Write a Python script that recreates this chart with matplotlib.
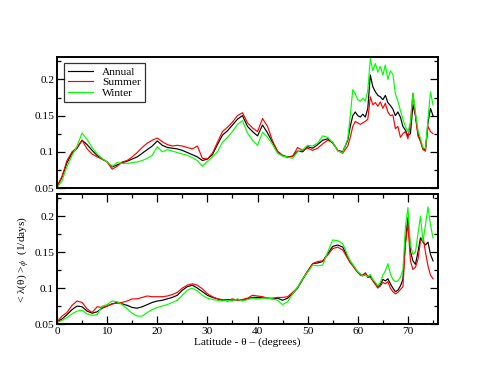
import numpy as np
import matplotlib
matplotlib.use("Agg")
import matplotlib.pyplot as plt
from matplotlib.ticker import MultipleLocator, FixedLocator

plt.rcParams['font.family'] = ['Liberation Serif', 'DejaVu Serif']
plt.rcParams['mathtext.fontset'] = 'stix'

lat = list(range(0, 58)) + [58 + 0.5 * i for i in range(35)]

top_annual = [0.052, 0.065, 0.085, 0.098, 0.105, 0.116, 0.110, 0.102, 0.095, 0.090,
              0.086, 0.079, 0.082, 0.085, 0.087, 0.090, 0.093, 0.098, 0.103, 0.108,
              0.115, 0.109, 0.106, 0.105, 0.104, 0.102, 0.099, 0.096, 0.093, 0.088,
              0.090, 0.096, 0.110, 0.123, 0.129, 0.137, 0.145, 0.150, 0.135, 0.128,
              0.122, 0.137, 0.126, 0.113, 0.100, 0.095, 0.093, 0.094, 0.101, 0.100,
              0.107, 0.105, 0.110, 0.116, 0.118, 0.112, 0.102, 0.100,
              0.116, 0.135, 0.150, 0.155, 0.150, 0.148, 0.152, 0.148, 0.160, 0.206,
              0.190, 0.183, 0.178, 0.176, 0.172, 0.178, 0.168, 0.164, 0.159, 0.150,
              0.155, 0.148, 0.135, 0.130, 0.122, 0.125, 0.165, 0.150, 0.125, 0.116,
              0.104, 0.103, 0.140, 0.160, 0.150]
top_summer = [0.052, 0.066, 0.088, 0.100, 0.106, 0.116, 0.104, 0.097, 0.093, 0.090,
              0.086, 0.076, 0.080, 0.086, 0.088, 0.093, 0.099, 0.106, 0.112, 0.116,
              0.119, 0.114, 0.110, 0.108, 0.109, 0.108, 0.106, 0.104, 0.108, 0.091,
              0.090, 0.098, 0.113, 0.128, 0.134, 0.141, 0.150, 0.154, 0.140, 0.133,
              0.128, 0.146, 0.135, 0.115, 0.101, 0.095, 0.092, 0.094, 0.106, 0.102,
              0.105, 0.102, 0.105, 0.111, 0.116, 0.113, 0.102, 0.098,
              0.108, 0.120, 0.135, 0.142, 0.140, 0.138, 0.140, 0.142, 0.145, 0.176,
              0.165, 0.168, 0.163, 0.169, 0.160, 0.167, 0.155, 0.150, 0.151, 0.132,
              0.135, 0.120, 0.125, 0.128, 0.118, 0.140, 0.181, 0.150, 0.122, 0.114,
              0.103, 0.101, 0.135, 0.128, 0.125]
top_winter = [0.050, 0.060, 0.080, 0.095, 0.108, 0.126, 0.117, 0.106, 0.097, 0.091,
              0.086, 0.080, 0.085, 0.084, 0.084, 0.085, 0.086, 0.088, 0.091, 0.095,
              0.107, 0.100, 0.103, 0.101, 0.099, 0.097, 0.095, 0.092, 0.088, 0.080,
              0.087, 0.093, 0.100, 0.113, 0.120, 0.128, 0.138, 0.143, 0.126, 0.116,
              0.109, 0.127, 0.120, 0.110, 0.098, 0.094, 0.093, 0.091, 0.100, 0.103,
              0.109, 0.108, 0.112, 0.122, 0.120, 0.113, 0.101, 0.099,
              0.118, 0.150, 0.186, 0.180, 0.172, 0.170, 0.174, 0.170, 0.185, 0.229,
              0.212, 0.222, 0.210, 0.218, 0.206, 0.220, 0.200, 0.212, 0.207, 0.180,
              0.170, 0.157, 0.145, 0.135, 0.128, 0.140, 0.181, 0.155, 0.130, 0.118,
              0.106, 0.104, 0.145, 0.183, 0.165]

bot_annual = [0.053, 0.057, 0.063, 0.070, 0.075, 0.074, 0.068, 0.065, 0.067, 0.072,
              0.075, 0.078, 0.080, 0.078, 0.076, 0.073, 0.072, 0.074, 0.077, 0.080,
              0.082, 0.083, 0.085, 0.087, 0.090, 0.097, 0.102, 0.104, 0.100, 0.095,
              0.090, 0.087, 0.085, 0.083, 0.084, 0.083, 0.084, 0.083, 0.085, 0.087,
              0.087, 0.087, 0.086, 0.085, 0.086, 0.083, 0.086, 0.092, 0.100, 0.112,
              0.123, 0.134, 0.135, 0.137, 0.148, 0.158, 0.160, 0.157,
              0.143, 0.137, 0.132, 0.127, 0.122, 0.119, 0.118, 0.121, 0.115, 0.117,
              0.111, 0.106, 0.102, 0.105, 0.112, 0.110, 0.113, 0.106, 0.100, 0.095,
              0.097, 0.103, 0.112, 0.165, 0.198, 0.151, 0.138, 0.133, 0.150, 0.170,
              0.164, 0.160, 0.164, 0.147, 0.138]
bot_summer = [0.053, 0.061, 0.066, 0.076, 0.082, 0.080, 0.071, 0.066, 0.074, 0.073,
              0.075, 0.078, 0.079, 0.080, 0.082, 0.085, 0.085, 0.087, 0.089, 0.088,
              0.088, 0.088, 0.089, 0.091, 0.094, 0.100, 0.104, 0.106, 0.104, 0.099,
              0.092, 0.088, 0.085, 0.084, 0.082, 0.085, 0.083, 0.084, 0.086, 0.090,
              0.089, 0.088, 0.086, 0.086, 0.087, 0.087, 0.088, 0.094, 0.101, 0.113,
              0.124, 0.134, 0.137, 0.138, 0.146, 0.155, 0.157, 0.153,
              0.141, 0.135, 0.131, 0.126, 0.122, 0.118, 0.117, 0.121, 0.116, 0.115,
              0.110, 0.105, 0.100, 0.103, 0.108, 0.106, 0.109, 0.100, 0.095, 0.092,
              0.094, 0.098, 0.102, 0.160, 0.190, 0.138, 0.126, 0.129, 0.140, 0.165,
              0.172, 0.150, 0.131, 0.118, 0.113]
bot_winter = [0.052, 0.055, 0.059, 0.064, 0.068, 0.069, 0.064, 0.062, 0.063, 0.075,
              0.077, 0.082, 0.081, 0.077, 0.071, 0.065, 0.061, 0.061, 0.066, 0.070,
              0.073, 0.075, 0.077, 0.080, 0.083, 0.090, 0.097, 0.100, 0.096, 0.090,
              0.086, 0.084, 0.083, 0.082, 0.083, 0.082, 0.085, 0.082, 0.084, 0.086,
              0.085, 0.086, 0.086, 0.085, 0.083, 0.077, 0.081, 0.092, 0.101, 0.113,
              0.122, 0.132, 0.131, 0.132, 0.150, 0.167, 0.166, 0.162,
              0.145, 0.138, 0.133, 0.128, 0.123, 0.120, 0.117, 0.118, 0.116, 0.119,
              0.112, 0.108, 0.103, 0.108, 0.118, 0.124, 0.134, 0.120, 0.112, 0.109,
              0.110, 0.115, 0.125, 0.185, 0.212, 0.160, 0.147, 0.150, 0.175, 0.200,
              0.165, 0.188, 0.213, 0.188, 0.170]

series_names = ["Annual", "Summer", "Winter"]
series_colors = ["#000000", "#ff0000", "#00ff00"]
xticks_major = [0, 10, 20, 30, 40, 50, 60, 70]
yticks_major = [0.05, 0.1, 0.15, 0.2]
ytick_labels = ["0.05", "0.1", "0.15", "0.2"]

fig = plt.figure(figsize=(4.95, 3.83), dpi=100)
W, H = 495.0, 383.0
ax1 = fig.add_axes([57 / W, 1 - 188 / H, 381 / W, 131 / H])
ax2 = fig.add_axes([57 / W, 1 - 324 / H, 381 / W, 130 / H])

fs = 8.2
for ax, data in ((ax1, (top_annual, top_summer, top_winter)),
                 (ax2, (bot_annual, bot_summer, bot_winter))):
    for name, col, ys in zip(series_names, series_colors, data):
        ax.plot(lat, ys, color=col, lw=0.85, label=name)
    ax.set_xlim(0, 76)
    ax.set_ylim(0.05, 0.231)
    ax.yaxis.set_major_locator(FixedLocator(yticks_major))
    ax.set_yticklabels(ytick_labels, fontsize=fs)
    ax.yaxis.set_minor_locator(MultipleLocator(0.025))
    ax.xaxis.set_major_locator(FixedLocator(xticks_major))
    ax.xaxis.set_minor_locator(MultipleLocator(5))
    for s in ax.spines.values():
        s.set_linewidth(1.4)
    ax.tick_params(which='major', direction='in', length=5.5, width=0.9,
                   left=True, right=True, top=True, bottom=True, pad=2)
    ax.tick_params(which='minor', direction='in', length=3, width=0.9,
                   left=True, right=True, top=True, bottom=True)

ax1.tick_params(which='both', top=False, bottom=False, labelbottom=False)
ax2.set_xticklabels([str(v) for v in xticks_major], fontsize=fs)
ax2.set_xlabel("Latitude - θ – (degrees)", fontsize=fs, labelpad=1)
ax2.set_ylabel("< λ(θ) >$_{\\phi}$  (1/days)", fontsize=fs, labelpad=2)

leg = ax1.legend(loc='upper left', bbox_to_anchor=(0.018, 0.955), fontsize=fs,
                 frameon=True, fancybox=False, handlelength=2.2, handletextpad=0.8,
                 borderpad=0.35, labelspacing=0.05, borderaxespad=0)
leg.get_frame().set_edgecolor('black')
leg.get_frame().set_linewidth(0.9)

fig.savefig("out.png", dpi=100)
